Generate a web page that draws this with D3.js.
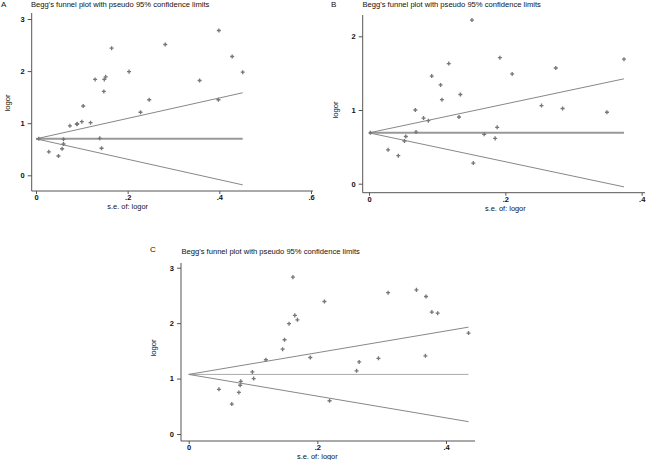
<!DOCTYPE html>
<html>
<head>
<meta charset="utf-8">
<script src="https://cdn.jsdelivr.net/npm/d3@7"></script>
<style>
  body { margin: 0; background: #fff; }
  svg { display: block; }
  text { font-family: "Liberation Sans", Arial, sans-serif; fill: #111; }
</style>
</head>
<body>
<svg id="chart" width="650" height="460"></svg>
<script>
// study points: standard error and log odds ratio
var seA = [0.006, 0.028, 0.049, 0.057, 0.060, 0.060, 0.074, 0.089, 0.090, 0.100, 0.103, 0.119, 0.129, 0.139, 0.143, 0.148, 0.149, 0.152, 0.165, 0.203, 0.228, 0.247, 0.282, 0.357, 0.398, 0.399, 0.428, 0.451];
var orA = [0.70, 0.45, 0.37, 0.51, 0.60, 0.69, 0.95, 0.98, 0.99, 1.03, 1.33, 1.01, 1.84, 0.71, 0.52, 1.61, 1.84, 1.89, 2.44, 1.99, 1.21, 1.45, 2.51, 1.82, 1.45, 2.78, 2.28, 1.98];

var seB = [0.002, 0.028, 0.043, 0.052, 0.054, 0.068, 0.069, 0.080, 0.087, 0.092, 0.105, 0.107, 0.117, 0.132, 0.134, 0.151, 0.153, 0.169, 0.185, 0.188, 0.192, 0.210, 0.253, 0.274, 0.284, 0.349, 0.374];
var orB = [0.69, 0.46, 0.38, 0.58, 0.64, 1.00, 0.70, 0.89, 0.855, 1.46, 1.34, 1.14, 1.63, 0.905, 1.21, 2.22, 0.28, 0.67, 0.615, 0.765, 1.71, 1.49, 1.06, 1.57, 1.02, 0.97, 1.69];

var seC = [0.047, 0.067, 0.078, 0.080, 0.081, 0.099, 0.101, 0.120, 0.146, 0.149, 0.156, 0.162, 0.165, 0.169, 0.189, 0.211, 0.219, 0.261, 0.265, 0.295, 0.310, 0.354, 0.368, 0.369, 0.378, 0.387, 0.435];
var orC = [0.806, 0.54, 0.75, 0.88, 0.95, 1.12, 1.00, 1.34, 1.53, 1.70, 1.99, 2.83, 2.14, 2.06, 1.38, 2.39, 0.60, 1.14, 1.30, 1.365, 2.55, 2.60, 1.41, 2.48, 2.20, 2.18, 1.82];

// pooled estimate and the end of the funnel for each panel
var pooled = [0.70, 0.69, 1.075];
var seMax = [0.451, 0.374, 0.435];

var xTicksA = [0, 0.2, 0.4, 0.6], yTicksA = [0, 1, 2, 3];
var xTicksB = [0, 0.2, 0.4], yTicksB = [0, 1, 2];
var xTicksC = [0, 0.2, 0.4], yTicksC = [0, 1, 2, 3];
var tickLabel = function(v) { return v === 0 ? "0" : String(v).replace(/^0/, ""); };

var svg = d3.select("#chart");

// draws one Begg's funnel panel
function drawPanel(p) {
  var g = svg.append("g");
  var x = d3.scaleLinear().domain([0, p.xTicks[p.xTicks.length - 1]]).range(p.xr);
  var y = d3.scaleLinear().domain([0, p.yTicks[p.yTicks.length - 1]]).range(p.yr);

  // axes, Stata style: the lines run a bit past the ticks
  var xAxis = d3.axisBottom(x).tickValues(p.xTicks).tickFormat(tickLabel).tickSize(3).tickPadding(1);
  var yAxis = d3.axisLeft(y).tickValues(p.yTicks).tickFormat(tickLabel).tickSize(4).tickPadding(3);

  var gx = g.append("g").attr("transform", "translate(0," + p.axisY + ")").call(xAxis);
  var gy = g.append("g").attr("transform", "translate(" + p.axisX + ",0)").call(yAxis);
  gx.select(".domain").remove();
  gy.select(".domain").remove();
  g.append("line").attr("x1", p.axisX).attr("x2", p.xEnd).attr("y1", p.axisY).attr("y2", p.axisY)
    .attr("stroke", "#555").attr("stroke-width", 1);
  g.append("line").attr("x1", p.axisX).attr("x2", p.axisX).attr("y1", p.yTop).attr("y2", p.axisY)
    .attr("stroke", "#555").attr("stroke-width", 1);
  g.selectAll(".tick line").attr("stroke", "#555");
  g.selectAll(".tick text").attr("font-size", 7.5).attr("font-weight", "bold").attr("fill", "#222");

  // funnel: pooled line and pseudo 95% limits
  var th = p.theta, sm = p.seMax;
  g.append("line").attr("x1", x(0)).attr("x2", x(sm)).attr("y1", y(th)).attr("y2", y(th))
    .attr("stroke", p.midColor).attr("stroke-width", p.midWidth);
  g.append("line").attr("x1", x(0)).attr("x2", x(sm)).attr("y1", y(th)).attr("y2", y(th + 1.96 * sm))
    .attr("stroke", "#888").attr("stroke-width", 1);
  g.append("line").attr("x1", x(0)).attr("x2", x(sm)).attr("y1", y(th)).attr("y2", y(th - 1.96 * sm))
    .attr("stroke", "#888").attr("stroke-width", 1);

  // study markers
  var sym = d3.symbol().type(d3.symbolCross).size(9);
  g.selectAll("path.pt").data(p.se).enter().append("path")
    .attr("class", "pt")
    .attr("d", sym)
    .attr("transform", function(d, i) { return "translate(" + x(d) + "," + y(p.or[i]) + ")"; })
    .attr("fill", "#777");

  // texts
  g.append("text").attr("x", p.letter[0]).attr("y", p.letter[1]).text(p.name)
    .attr("font-family", "Liberation Serif, serif").attr("font-size", 8).attr("fill", "#444");
  g.append("text").attr("x", p.title[0]).attr("y", p.title[1])
    .text("Begg's funnel plot with pseudo 95% confidence limits")
    .attr("font-size", 7.6);
  g.append("text").attr("x", x(0.2)).attr("y", p.xLabY).attr("text-anchor", "middle")
    .text("s.e. of: logor").attr("font-size", 7.4);
  g.append("text").attr("transform", "translate(" + p.yLab[0] + "," + p.yLab[1] + ") rotate(-90)")
    .attr("text-anchor", "middle").text("logor").attr("font-size", 7.6);
}

drawPanel({
  name: "A", se: seA, or: orA, theta: pooled[0], seMax: seMax[0],
  xTicks: xTicksA, yTicks: yTicksA,
  xr: [36, 311], yr: [175.3, 19],
  axisX: 31.7, axisY: 191, xEnd: 313, yTop: 13,
  midColor: "#999", midWidth: 2,
  letter: [1, 7], title: [31, 7], xLabY: 209, yLab: [10, 103]
});

drawPanel({
  name: "B", se: seB, or: orB, theta: pooled[1], seMax: seMax[1],
  xTicks: xTicksB, yTicks: yTicksB,
  xr: [369, 641.7], yr: [183.7, 36.3],
  axisX: 362.7, axisY: 192.7, xEnd: 645, yTop: 15,
  midColor: "#999", midWidth: 2,
  letter: [331, 7], title: [362.5, 7], xLabY: 211, yLab: [338, 110]
});

drawPanel({
  name: "C", se: seC, or: orC, theta: pooled[2], seMax: seMax[2],
  xTicks: xTicksC, yTicks: yTicksC,
  xr: [188.7, 446], yr: [434, 267.7],
  axisX: 181, axisY: 441, xEnd: 475, yTop: 263,
  midColor: "#aaa", midWidth: 1,
  letter: [150, 252], title: [181.5, 254], xLabY: 458.5, yLab: [156, 348]
});
</script>
</body>
</html>
